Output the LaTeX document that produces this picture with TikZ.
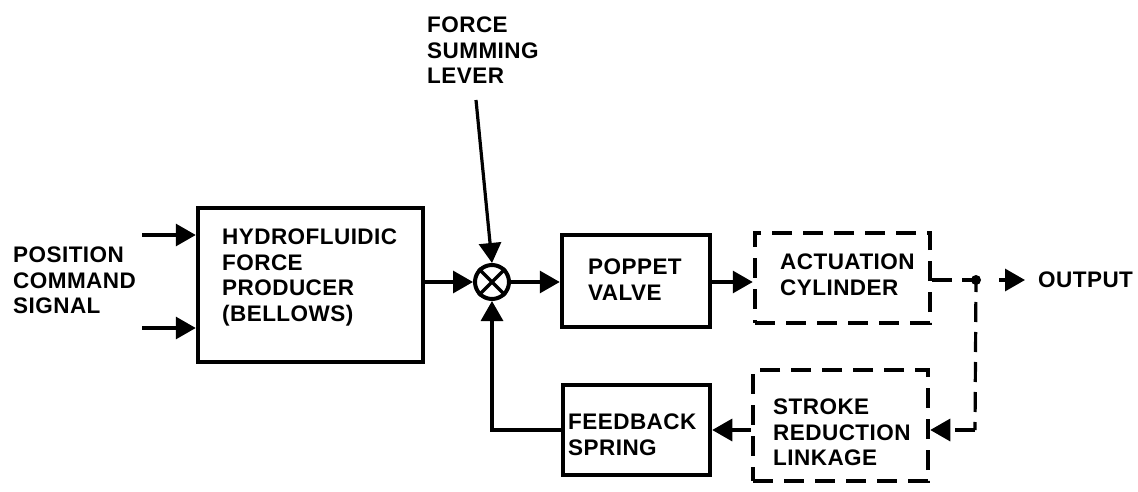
\documentclass[tikz,border=0pt]{standalone}
\usepackage{fontspec}
\setmainfont{Liberation Sans}[LetterSpace=2]
\usetikzlibrary{arrows.meta}
\tikzset{
  x=1pt, y=-1pt,
  lbl/.style={font=\fontsize{22.5}{25.5}\selectfont\bfseries, align=left, inner sep=0pt, anchor=north west},
  blk/.style={draw, line width=4.5pt, rectangle, inner sep=0pt},
  dblk/.style={blk, dash pattern=on 20pt off 11pt},
  conn/.style={line width=3.2pt},
  arr/.style={conn, -{Triangle[length=20pt,width=22pt]}},
  dconn/.style={line width=3.2pt, dash pattern=on 20pt off 10pt}
}
\begin{document}
\begin{tikzpicture}
\useasboundingbox (0,0) rectangle (1138,492);
% blocks
\node[blk, minimum width=225pt, minimum height=154pt] (hydro) at (310.5,285) {};
\node[draw, circle, line width=4pt, minimum size=34pt, inner sep=0pt] (sum) at (492,282) {};
\node[blk, minimum width=148pt, minimum height=92pt] (pop) at (636,281) {};
\node[dblk, minimum width=175pt, minimum height=90pt] (act) at (842.5,278) {};
\node[blk, minimum width=147pt, minimum height=90pt] (fb) at (636.5,430) {};
\node[dblk, minimum width=175pt, minimum height=111pt] (str) at (840.5,425.5) {};
% texts
\node[lbl] (tpos) at (13,247) {POSITION\\COMMAND\\SIGNAL};
\node[lbl] (thyd) at (222,229) {HYDROFLUIDIC\\FORCE\\PRODUCER\\(BELLOWS)};
\node[lbl] (tpop) at (588,259) {POPPET\\VALVE};
\node[lbl] (tact) at (780,254) {ACTUATION\\CYLINDER};
\node[lbl] (tout) at (1038,272) {OUTPUT};
\node[lbl] (tfb) at (568,414) {FEEDBACK\\SPRING};
\node[lbl] (tstr) at (773,399) {STROKE\\REDUCTION\\LINKAGE};
\node[lbl] (tlev) at (427,17) {FORCE\\SUMMING\\LEVER};
% summing cross
\draw[line width=3.2pt] (sum.north west) -- (sum.south east) (sum.north east) -- (sum.south west);
% coordinates
\coordinate (i1) at (142,235);
\coordinate (i2) at (142,328);
\coordinate (lv) at (476,100);
\node[circle, fill, inner sep=0pt, minimum size=10pt] (dot) at (976,280) {};
\coordinate (o1) at (999,280);
\coordinate (o2) at (1025,280);
\coordinate (dn) at (975,430);
% connectors
\draw[arr] (i1) -- (i1 -| hydro.west);
\draw[arr] (i2) -- (i2 -| hydro.west);
\draw[arr] (hydro.east |- sum) -- (sum.west);
\draw[arr] (sum.east) -- (sum -| pop.west);
\draw[arr] (pop.east |- sum) -- (sum -| act.west);
\draw[arr] (lv) -- (sum.north);
\draw[dconn] (act.east |- dot) -- (dot.center);
\draw[arr] (o1) -- (o2);
\draw[dconn, dash phase=8pt] (dot.center) -- (dn);
\draw[arr, dash pattern=on 20pt off 10pt] (dn) -- (dn -| str.east);
\draw[arr] (str.west |- fb) -- (fb.east);
\draw[arr] (fb.west) -| (sum.south);
\end{tikzpicture}
\end{document}
